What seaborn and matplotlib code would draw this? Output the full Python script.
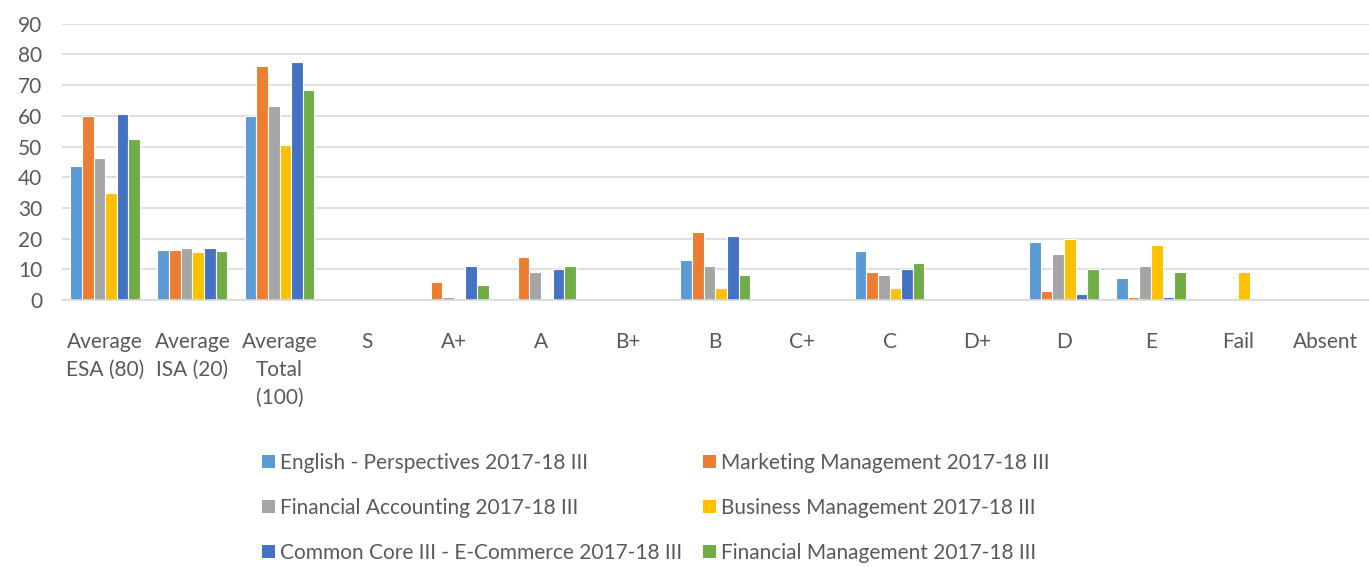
import matplotlib
matplotlib.use("Agg")
import matplotlib.pyplot as plt
import seaborn as sns
import pandas as pd
from matplotlib.patches import Patch

categories = ["Average\nESA (80)", "Average\nISA (20)", "Average\nTotal\n(100)", "S", "A+", "A",
              "B+", "B", "C+", "C", "D+", "D", "E", "Fail", "Absent"]
series = ["English - Perspectives 2017-18 III", "Marketing Management 2017-18 III",
          "Financial Accounting 2017-18 III", "Business Management 2017-18 III",
          "Common Core III - E-Commerce 2017-18 III", "Financial Management 2017-18 III"]
english = [43.5, 16.4, 59.9, 0, 0, 0, 0, 13, 0, 16, 0, 19, 7, 0, 0]
marketing = [60.0, 16.3, 76.1, 0, 6, 14, 0, 22, 0, 9, 0, 3, 1, 0, 0]
fin_acc = [46.3, 17.0, 63.3, 0, 1, 9, 0, 11, 0, 8, 0, 15, 11, 0, 0]
business = [35.0, 15.6, 50.5, 0, 0, 0, 0, 4, 0, 4, 0, 20, 18, 9, 0]
ecommerce = [60.7, 16.8, 77.4, 0, 11, 10, 0, 21, 0, 10, 0, 2, 1, 0, 0]
fin_mgmt = [52.5, 15.8, 68.4, 0, 5, 11, 0, 8, 0, 12, 0, 10, 9, 0, 0]
colors = ["#5B9BD5", "#ED7D31", "#A5A5A5", "#FFC000", "#4472C4", "#70AD47"]

values = [english, marketing, fin_acc, business, ecommerce, fin_mgmt]
rows = []
for s, vals in zip(series, values):
    for c, v in zip(categories, vals):
        rows.append({"category": c, "series": s, "value": v})
df = pd.DataFrame(rows)

sns.set_theme(style="white")
plt.rcParams['font.family'] = ['Lato', 'DejaVu Sans']
text_color = "#595959"

fig = plt.figure(figsize=(13.69, 5.67), dpi=100)
ax = fig.add_axes([0.045, 0.471, 0.955, 0.487])
sns.barplot(data=df, x="category", y="value", hue="series", order=categories,
            hue_order=series, palette=colors, width=0.8, saturation=1,
            edgecolor="white", linewidth=0.8, ax=ax, legend=False)

ax.set_ylim(0, 90)
ax.set_yticks(range(0, 91, 10))
ax.set_xlim(-0.5, len(categories) - 0.5)
ax.grid(axis="y", color="#D9D9D9", linewidth=1.2)
ax.set_axisbelow(True)
for sp in ["top", "right", "left"]:
    ax.spines[sp].set_visible(False)
ax.spines["bottom"].set_color("#D9D9D9")
ax.spines["bottom"].set_linewidth(1.2)
ax.set_xlabel("")
ax.set_ylabel("")
ax.tick_params(axis="both", length=0, labelsize=15, labelcolor=text_color)
ax.tick_params(axis="x", pad=23)
ax.tick_params(axis="y", pad=14)
for lbl in ax.get_xticklabels():
    lbl.set_va("top")
    lbl.set_linespacing(1.5)

order = [0, 2, 4, 1, 3, 5]
handles = [Patch(facecolor=colors[i], edgecolor="none") for i in order]
labels = [series[i] for i in order]
leg = fig.legend(handles, labels, loc="lower left", bbox_to_anchor=(0.178, -0.026),
                 ncol=2, frameon=False, fontsize=15, labelcolor=text_color,
                 handlelength=0.6, handleheight=0.6, handletextpad=0.25,
                 columnspacing=1.0, labelspacing=1.2)

fig.savefig("out.png", dpi=100)
